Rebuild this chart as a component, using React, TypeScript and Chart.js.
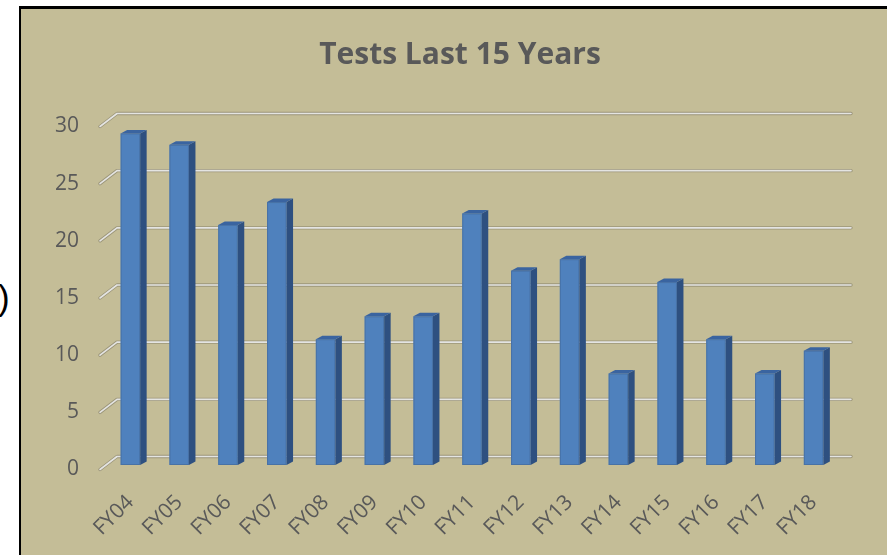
import React, { useEffect, useRef } from "react";
import { Chart, registerables } from "chart.js";

Chart.register(...registerables);

const chartTitle = "Tests Last 15 Years";
const categories = ["FY04", "FY05", "FY06", "FY07", "FY08", "FY09", "FY10", "FY11", "FY12", "FY13", "FY14", "FY15", "FY16", "FY17", "FY18"];
const testCounts = [29, 28, 21, 23, 11, 13, 13, 22, 17, 18, 8, 16, 11, 8, 10];
const yMin = 0;
const yMax = 30;
const yStep = 5;

const FRONT = "#4F81BD";
const SIDE = "#2E5080";
const TOP = "#3A64A0";
const DEPTH_X = 6.5;
const DEPTH_Y = -3.5;

const threeDPlugin = {
  id: "threeD",
  beforeDatasetsDraw(chart: any) {
    const { ctx, chartArea, scales } = chart;
    const y = scales.y;
    ctx.save();
    ctx.lineCap = "round";
    ctx.lineJoin = "round";
    y.ticks.forEach((t: any) => {
      const py = y.getPixelForValue(t.value);
      const fx = chartArea.left - 6;
      const fy = py + 4.5;
      const bx = chartArea.left + 11;
      const by = py - 8.5;
      const ex = chartArea.right + 13;
      ctx.beginPath();
      ctx.moveTo(fx, fy);
      ctx.lineTo(bx, by);
      ctx.lineTo(ex, by);
      ctx.strokeStyle = "#9B9579";
      ctx.lineWidth = 3.4;
      ctx.stroke();
      ctx.strokeStyle = "#E4E4E2";
      ctx.lineWidth = 1.6;
      ctx.stroke();
    });
    ctx.restore();
  },
  afterDatasetsDraw(chart: any) {
    const { ctx } = chart;
    const meta = chart.getDatasetMeta(0);
    ctx.save();
    meta.data.forEach((el: any) => {
      const p = el.getProps(["x", "y", "base", "width"], true);
      const left = p.x - p.width / 2;
      const right = p.x + p.width / 2;
      const top = p.y;
      const base = p.base;
      ctx.beginPath();
      ctx.moveTo(right, top);
      ctx.lineTo(right + DEPTH_X, top + DEPTH_Y);
      ctx.lineTo(right + DEPTH_X, base + DEPTH_Y);
      ctx.lineTo(right, base);
      ctx.closePath();
      ctx.fillStyle = SIDE;
      ctx.fill();
      ctx.beginPath();
      ctx.moveTo(left, top);
      ctx.lineTo(left + DEPTH_X, top + DEPTH_Y);
      ctx.lineTo(right + DEPTH_X, top + DEPTH_Y);
      ctx.lineTo(right, top);
      ctx.closePath();
      ctx.fillStyle = TOP;
      ctx.fill();
      ctx.strokeStyle = "rgba(70,110,160,0.8)";
      ctx.lineWidth = 1;
      ctx.strokeRect(left + 0.5, top + 0.5, p.width - 1, base - top - 1);
    });
    ctx.restore();
  },
};

export default function App() {
  const canvasRef = useRef<HTMLCanvasElement | null>(null);

  useEffect(() => {
    const canvas = canvasRef.current;
    if (!canvas) return;
    const chart = new Chart(canvas, {
      type: "bar",
      data: {
        labels: categories,
        datasets: [
          {
            label: "Tests",
            data: testCounts,
            backgroundColor: FRONT,
            borderWidth: 0,
            barPercentage: 0.4,
            categoryPercentage: 1,
            yAxisID: "y",
          },
        ],
      },
      options: {
        animation: false,
        responsive: false,
        devicePixelRatio: 1,
        layout: { padding: { left: 33, right: 0, top: 0, bottom: 0 } },
        plugins: {
          legend: { display: false },
          tooltip: { enabled: false },
          title: {
            display: true,
            text: chartTitle,
            color: "#595959",
            font: { family: "'Open Sans'", size: 30, weight: "bold", lineHeight: 1.2 },
            padding: { top: 37, bottom: 49 },
          },
        },
        scales: {
          x: {
            grid: { display: false, drawTicks: false },
            border: { display: false },
            ticks: {
              color: "#595959",
              font: { family: "'Open Sans'", size: 21 },
              minRotation: 45,
              maxRotation: 45,
              autoSkip: false,
              padding: 25,
            },
            afterFit: (s: any) => {
              s.height = 90;
            },
          },
          y: {
            position: "left",
            min: yMin,
            max: yMax,
            grid: { display: false, drawTicks: false },
            border: { display: false },
            ticks: {
              stepSize: yStep,
              color: "#595959",
              font: { family: "'Open Sans'", size: 21 },
              padding: 27,
              labelOffset: 4.5,
            },
            afterFit: (s: any) => {
              s.width = 73;
            },
          },
          yRight: {
            position: "right",
            min: yMin,
            max: yMax,
            grid: { display: false, drawTicks: false },
            border: { display: false },
            ticks: { display: false },
            afterFit: (s: any) => {
              s.width = 49;
            },
          },
        },
      },
      plugins: [threeDPlugin],
    });
    return () => chart.destroy();
  }, []);

  return (
    <div style={{ position: "fixed", left: 0, top: 0, width: 887, height: 555, background: "#ffffff", overflow: "hidden" }}>
      <span
        style={{
          position: "absolute",
          left: -2,
          top: 280,
          fontFamily: "'Liberation Sans', sans-serif",
          fontSize: 35,
          lineHeight: 1,
          color: "#000",
        }}
      >
        )
      </span>
      <div
        style={{
          position: "absolute",
          left: 19,
          top: 6,
          width: 900,
          height: 600,
          background: "#C4BD97",
          borderLeft: "2px solid #000",
          borderTop: "3px solid #000",
        }}
      />
      <canvas ref={canvasRef} width={887} height={555} style={{ position: "absolute", left: 0, top: 0, width: 887, height: 555 }} />
    </div>
  );
}
